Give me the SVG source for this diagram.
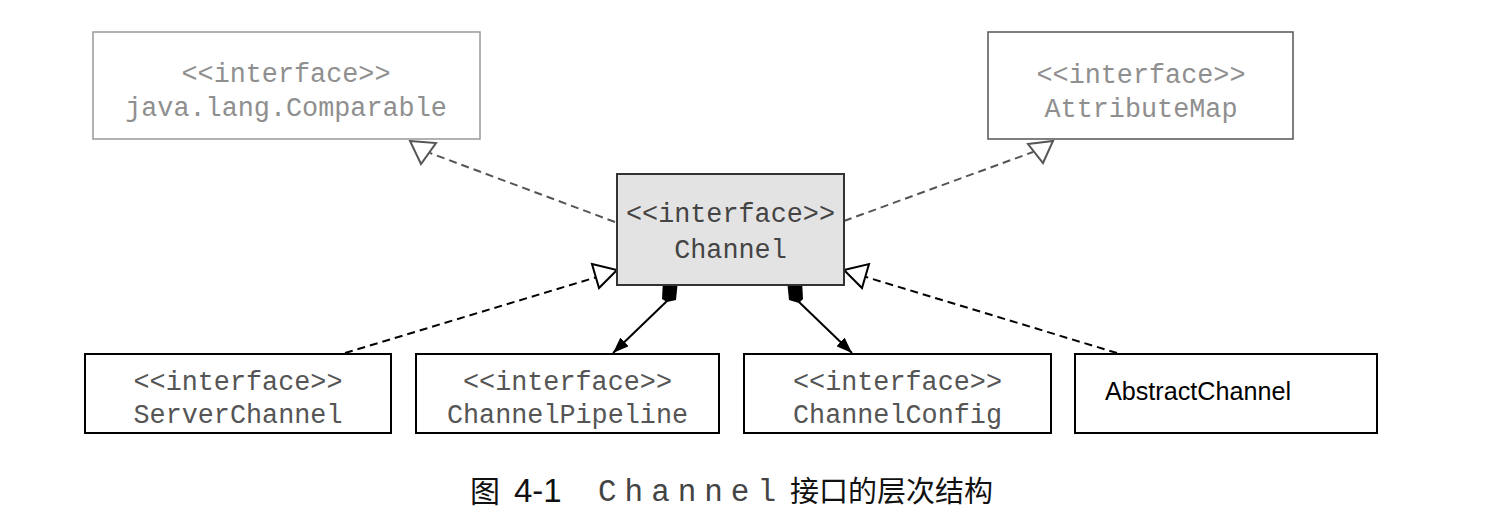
<svg xmlns="http://www.w3.org/2000/svg" width="1500" height="526" viewBox="0 0 1500 526">
<defs>
<style>
.mono{font-family:"Liberation Mono","Courier New",monospace;font-size:26.8px;text-anchor:middle}
.light{fill:#8f8f8f}
.mid{fill:#555}
.dark{fill:#444}
.box{stroke-width:2}
.dash{fill:none;stroke-width:2;stroke-dasharray:8 5}
.tri{fill:#fff;stroke-width:2;stroke-linejoin:miter}
</style>
<marker id="arr" viewBox="0 0 16 12" refX="16" refY="6" markerWidth="16" markerHeight="12" markerUnits="userSpaceOnUse" orient="auto">
<path d="M0,0 L16,6 L0,12 Z" fill="#000"/>
</marker>
</defs>
<rect width="1500" height="526" fill="#fff"/>
<g id="connectors">
<line class="dash" x1="615" y1="222" x2="430" y2="153" stroke="#555"/>
<polygon class="tri" points="410,141 436,143 421,164" stroke="#555"/>
<line class="dash" x1="844" y1="221" x2="1033" y2="152" stroke="#555"/>
<polygon class="tri" points="1028,144 1053,141 1043,163" stroke="#555"/>
<line class="dash" x1="345" y1="353" x2="597" y2="277" stroke="#000"/>
<polygon class="tri" points="592,264 617,270 599,288" stroke="#000"/>
<line class="dash" x1="1117" y1="353" x2="866" y2="277" stroke="#000"/>
<polygon class="tri" points="844,270 869,264 862,288" stroke="#000"/>
<polygon points="663,280 678,280 676,300 667,302 662,299" fill="#000"/>
<line x1="667" y1="301" x2="613" y2="353" stroke="#000" stroke-width="2" marker-end="url(#arr)"/>
<polygon points="787,280 802,280 803,299 799,303 789,300" fill="#000"/>
<line x1="799" y1="302" x2="852" y2="353" stroke="#000" stroke-width="2" marker-end="url(#arr)"/>
</g>
<g id="comparable">
<rect x="93" y="32" width="387" height="107" fill="#fff" stroke="#999" stroke-width="1.5"/>
<text class="mono light" x="286" y="82">&lt;&lt;interface&gt;&gt;</text>
<text class="mono light" x="286" y="116">java.lang.Comparable</text>
</g>
<g id="attributemap">
<rect x="988" y="32" width="305" height="107" fill="#fff" stroke="#555" stroke-width="1.5"/>
<text class="mono light" x="1141" y="83">&lt;&lt;interface&gt;&gt;</text>
<text class="mono light" x="1141" y="117">AttributeMap</text>
</g>
<g id="channel">
<rect x="617" y="174" width="227" height="111" fill="#e3e3e3" stroke="#333" class="box"/>
<text class="mono dark" x="730.5" y="222">&lt;&lt;interface&gt;&gt;</text>
<text class="mono dark" x="730.5" y="258">Channel</text>
</g>
<g id="serverchannel">
<rect x="85" y="354" width="306" height="79" fill="#fff" stroke="#000" class="box"/>
<text class="mono mid" x="238" y="390">&lt;&lt;interface&gt;&gt;</text>
<text class="mono mid" x="238" y="423">ServerChannel</text>
</g>
<g id="channelpipeline">
<rect x="416" y="354" width="303" height="79" fill="#fff" stroke="#000" class="box"/>
<text class="mono mid" x="567.5" y="390">&lt;&lt;interface&gt;&gt;</text>
<text class="mono mid" x="567.5" y="423">ChannelPipeline</text>
</g>
<g id="channelconfig">
<rect x="744" y="354" width="307" height="79" fill="#fff" stroke="#000" class="box"/>
<text class="mono mid" x="897.5" y="390">&lt;&lt;interface&gt;&gt;</text>
<text class="mono mid" x="897.5" y="423">ChannelConfig</text>
</g>
<g id="abstractchannel">
<rect x="1075" y="354" width="302" height="79" fill="#fff" stroke="#000" class="box"/>
<text x="1105" y="400" font-family="'Liberation Sans',Arial,sans-serif" font-size="25" fill="#000" textLength="186" lengthAdjust="spacingAndGlyphs">AbstractChannel</text>
</g>
<g id="caption">
<text x="470" y="502" font-family="'Noto Sans CJK SC',sans-serif" font-size="30" fill="#111">图</text>
<text x="514" y="502" font-family="'Liberation Sans',Arial,sans-serif" font-size="33" fill="#111">4-1</text>
<text x="598" y="501" font-family="'Liberation Mono','Courier New',monospace" font-size="31" fill="#444" textLength="178" lengthAdjust="spacing">Channel</text>
<text x="790" y="502" font-family="'Noto Sans CJK SC',sans-serif" font-size="29" fill="#111">接口的层次结构</text>
</g>
</svg>
